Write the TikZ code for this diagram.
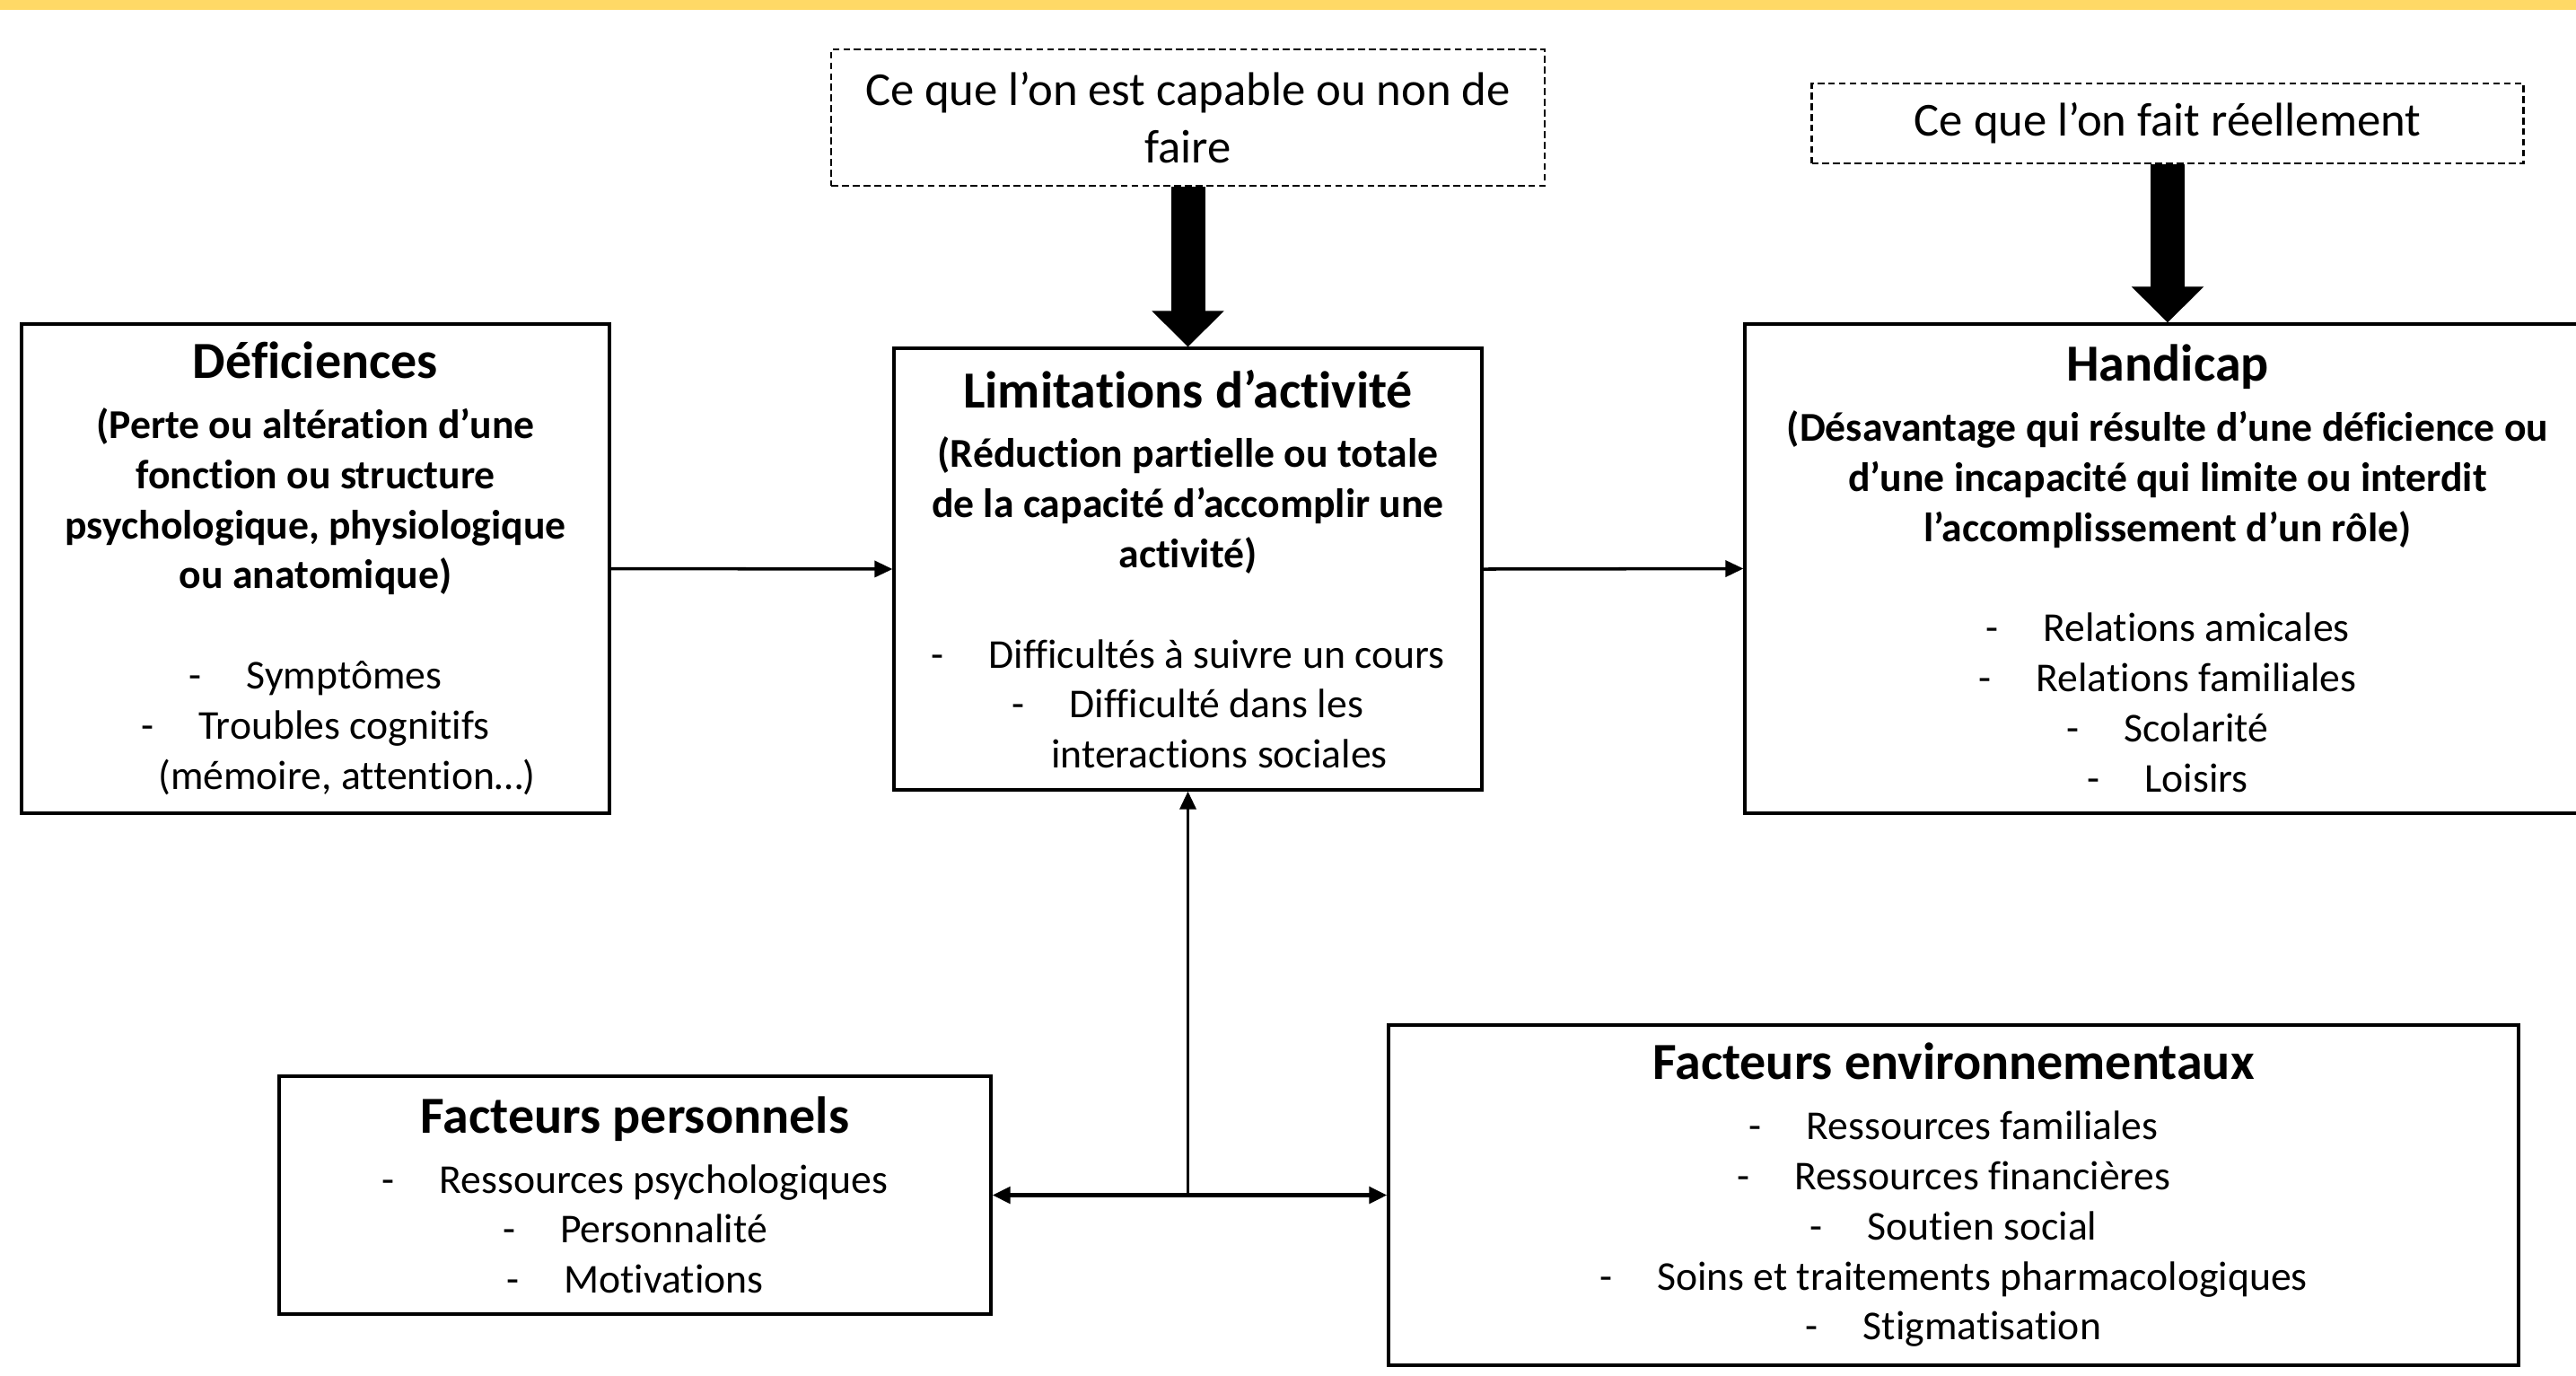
\documentclass[tikz,border=0pt]{standalone}
\usepackage{fontspec}
\setmainfont[RawFeature={-liga;-clig;-calt;-dlig}]{Carlito}
\usetikzlibrary{arrows.meta}
\definecolor{jaune}{RGB}{255,217,102}
\newcommand\tiret{-\hspace{0.5cm}}
\newcommand\titre[1]{{\fontsize{16.5}{19}\selectfont\bfseries #1}\\[3pt]}
\tikzset{
  cadre/.style={draw, line width=0.9pt, align=center, inner sep=0pt,
    font=\fontsize{13}{15.9}\selectfont},
  pointille/.style={draw, line width=0.6pt, dash pattern=on 2.2pt off 1.2pt,
    align=center, inner sep=0pt, font=\fontsize{15}{18.3}\selectfont},
  fleche/.style={-{Triangle[length=2mm,width=1.8mm]}, line width=1pt},
  grossefleche/.style={-{Triangle[length=4mm,width=7.8mm]}, line width=3.8mm},
}
\begin{document}
\begin{tikzpicture}
\useasboundingbox (0,0) rectangle (28.70,-15.32);
\clip (0,0) rectangle (28.70,-15.32);
\fill[jaune] (0,0) rectangle (28.70,-0.11);

% les deux questions
\node[pointille, minimum width=7.95cm, minimum height=1.52cm] (capable) at (13.235,-1.31)
  {Ce que l’on est capable ou non de\\faire};
\node[pointille, minimum width=7.93cm, minimum height=0.89cm] (reel) at (24.15,-1.375)
  {Ce que l’on fait réellement};

% les trois niveaux
\node[cadre, minimum width=6.55cm, minimum height=5.45cm] (deficiences) at (3.515,-6.335)
  {\titre{Déficiences}
   \textbf{(Perte ou altération d’une}\\
   \textbf{fonction ou structure}\\
   \textbf{psychologique, physiologique}\\
   \textbf{ou anatomique)}\\[15.9pt]
   \tiret Symptômes\\
   \tiret Troubles cognitifs\\
   \hspace*{0.7cm}(mémoire, attention…)};
\node[cadre, minimum width=6.55cm, minimum height=4.92cm] (limitations) at (13.235,-6.34)
  {\titre{Limitations d’activité}
   \textbf{(Réduction partielle ou totale}\\
   \textbf{de la capacité d’accomplir une}\\
   \textbf{activité)}\\[15.9pt]
   \tiret Difficultés à suivre un cours\\
   \tiret Difficulté dans les\\
   \hspace*{0.7cm}interactions sociales};
\node[cadre, minimum width=9.42cm, minimum height=5.45cm] (handicap) at (24.15,-6.335)
  {\titre{Handicap}
   \textbf{(Désavantage qui résulte d’une déficience ou}\\
   \textbf{d’une incapacité qui limite ou interdit}\\
   \textbf{l’accomplissement d’un rôle)}\\[15.9pt]
   \tiret Relations amicales\\
   \tiret Relations familiales\\
   \tiret Scolarité\\
   \tiret Loisirs};

% les facteurs
\node[cadre, minimum width=7.93cm, minimum height=2.65cm] (personnels) at (7.075,-13.315)
  {\titre{Facteurs personnels}
   \tiret Ressources psychologiques\\
   \tiret Personnalité\\
   \tiret Motivations};
\node[cadre, minimum width=12.59cm, minimum height=3.79cm] (environnement) at (21.765,-13.315)
  {\titre{Facteurs environnementaux}
   \tiret Ressources familiales\\
   \tiret Ressources financières\\
   \tiret Soutien social\\
   \tiret Soins et traitements pharmacologiques\\
   \tiret Stigmatisation};

\draw[grossefleche] (capable.south) -- (limitations.north);
\draw[grossefleche] (reel.south) -- (handicap.north);
\draw[fleche] (deficiences.east) -- (limitations.west);
\draw[fleche] (limitations.east) -- (handicap.west);
\coordinate (jonction) at (limitations.south |- personnels.east);
\draw[fleche, line width=1.6pt, {Triangle[length=2mm,width=1.8mm]}-{Triangle[length=2mm,width=1.8mm]}]
  (personnels.east) -- (environnement.west);
\draw[fleche] (jonction) -- (limitations.south);
\end{tikzpicture}
\end{document}
